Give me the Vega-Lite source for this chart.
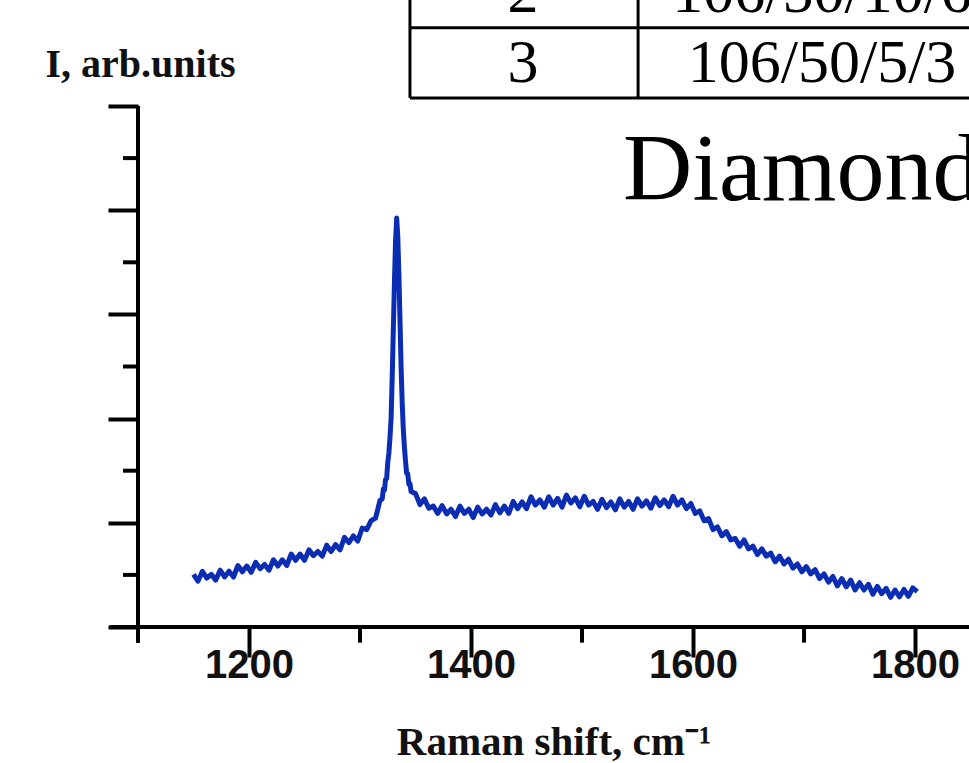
{
  "$schema": "https://vega.github.io/schema/vega-lite/v6.json",
  "width": 831,
  "height": 521,
  "autosize": {"type": "none"},
  "padding": {"left": 138, "top": 106, "right": 0, "bottom": 136},
  "background": "white",
  "config": {"view": {"stroke": null}},
  "datasets": {
    "spectrum": [
      {"x": 1150, "y": 1.01}, {"x": 1154, "y": 0.88}, {"x": 1158, "y": 1.07}, {"x": 1162, "y": 0.94},
      {"x": 1166, "y": 1.01}, {"x": 1170, "y": 0.90}, {"x": 1174, "y": 1.09}, {"x": 1178, "y": 0.96},
      {"x": 1182, "y": 1.07}, {"x": 1186, "y": 0.96}, {"x": 1190, "y": 1.18}, {"x": 1194, "y": 1.06},
      {"x": 1198, "y": 1.17}, {"x": 1202, "y": 1.05}, {"x": 1206, "y": 1.24}, {"x": 1210, "y": 1.12},
      {"x": 1214, "y": 1.20}, {"x": 1218, "y": 1.09}, {"x": 1222, "y": 1.29}, {"x": 1226, "y": 1.17},
      {"x": 1230, "y": 1.29}, {"x": 1234, "y": 1.18}, {"x": 1238, "y": 1.40}, {"x": 1242, "y": 1.28},
      {"x": 1246, "y": 1.40}, {"x": 1250, "y": 1.28}, {"x": 1254, "y": 1.48}, {"x": 1258, "y": 1.37},
      {"x": 1262, "y": 1.45}, {"x": 1266, "y": 1.36}, {"x": 1270, "y": 1.57}, {"x": 1274, "y": 1.45},
      {"x": 1278, "y": 1.58}, {"x": 1282, "y": 1.48}, {"x": 1286, "y": 1.72}, {"x": 1290, "y": 1.62},
      {"x": 1294, "y": 1.75}, {"x": 1298, "y": 1.65}, {"x": 1302, "y": 1.90}, {"x": 1306, "y": 1.87},
      {"x": 1310, "y": 2.04}, {"x": 1314, "y": 2.09}, {"x": 1318, "y": 2.43}, {"x": 1320, "y": 2.46},
      {"x": 1321, "y": 2.65}, {"x": 1322, "y": 2.63}, {"x": 1323, "y": 2.83}, {"x": 1324, "y": 2.85},
      {"x": 1325, "y": 3.16}, {"x": 1326, "y": 3.34}, {"x": 1327, "y": 3.64}, {"x": 1328, "y": 4.0},
      {"x": 1329, "y": 4.8}, {"x": 1330, "y": 5.7}, {"x": 1331, "y": 6.6}, {"x": 1332, "y": 7.4},
      {"x": 1333, "y": 7.85}, {"x": 1334, "y": 7.5}, {"x": 1335, "y": 6.8}, {"x": 1336, "y": 5.9},
      {"x": 1337, "y": 5.0}, {"x": 1338, "y": 4.3}, {"x": 1339, "y": 3.8}, {"x": 1340, "y": 3.45},
      {"x": 1341, "y": 3.18}, {"x": 1342, "y": 2.95}, {"x": 1343, "y": 2.94}, {"x": 1344, "y": 2.74},
      {"x": 1345, "y": 2.75}, {"x": 1346, "y": 2.60},
      {"x": 1350, "y": 2.56}, {"x": 1354, "y": 2.35}, {"x": 1358, "y": 2.46}, {"x": 1362, "y": 2.28},
      {"x": 1366, "y": 2.32}, {"x": 1370, "y": 2.18}, {"x": 1374, "y": 2.33}, {"x": 1378, "y": 2.17},
      {"x": 1382, "y": 2.26}, {"x": 1386, "y": 2.12}, {"x": 1390, "y": 2.32}, {"x": 1394, "y": 2.18},
      {"x": 1398, "y": 2.26}, {"x": 1402, "y": 2.10}, {"x": 1406, "y": 2.30}, {"x": 1410, "y": 2.17},
      {"x": 1414, "y": 2.26}, {"x": 1418, "y": 2.15}, {"x": 1422, "y": 2.35}, {"x": 1426, "y": 2.19},
      {"x": 1430, "y": 2.32}, {"x": 1434, "y": 2.18}, {"x": 1438, "y": 2.41}, {"x": 1442, "y": 2.27},
      {"x": 1446, "y": 2.40}, {"x": 1450, "y": 2.27}, {"x": 1454, "y": 2.50}, {"x": 1458, "y": 2.34},
      {"x": 1462, "y": 2.44}, {"x": 1466, "y": 2.30}, {"x": 1470, "y": 2.50}, {"x": 1474, "y": 2.34},
      {"x": 1478, "y": 2.47}, {"x": 1482, "y": 2.30}, {"x": 1486, "y": 2.53}, {"x": 1490, "y": 2.38},
      {"x": 1494, "y": 2.48}, {"x": 1498, "y": 2.31}, {"x": 1502, "y": 2.51}, {"x": 1506, "y": 2.34},
      {"x": 1510, "y": 2.41}, {"x": 1514, "y": 2.26}, {"x": 1518, "y": 2.45}, {"x": 1522, "y": 2.29},
      {"x": 1526, "y": 2.40}, {"x": 1530, "y": 2.25}, {"x": 1534, "y": 2.46}, {"x": 1538, "y": 2.30},
      {"x": 1542, "y": 2.41}, {"x": 1546, "y": 2.26}, {"x": 1550, "y": 2.46}, {"x": 1554, "y": 2.32},
      {"x": 1558, "y": 2.42}, {"x": 1562, "y": 2.28}, {"x": 1566, "y": 2.48}, {"x": 1570, "y": 2.33},
      {"x": 1574, "y": 2.44}, {"x": 1578, "y": 2.31}, {"x": 1582, "y": 2.51}, {"x": 1586, "y": 2.34},
      {"x": 1590, "y": 2.44}, {"x": 1594, "y": 2.27}, {"x": 1598, "y": 2.37}, {"x": 1602, "y": 2.18},
      {"x": 1606, "y": 2.23}, {"x": 1610, "y": 2.04}, {"x": 1614, "y": 2.08}, {"x": 1618, "y": 1.87},
      {"x": 1622, "y": 1.92}, {"x": 1626, "y": 1.75}, {"x": 1630, "y": 1.83}, {"x": 1634, "y": 1.67},
      {"x": 1638, "y": 1.70}, {"x": 1642, "y": 1.55}, {"x": 1646, "y": 1.67}, {"x": 1650, "y": 1.50},
      {"x": 1654, "y": 1.55}, {"x": 1658, "y": 1.39}, {"x": 1662, "y": 1.50}, {"x": 1666, "y": 1.36},
      {"x": 1670, "y": 1.42}, {"x": 1674, "y": 1.25}, {"x": 1678, "y": 1.36}, {"x": 1682, "y": 1.21},
      {"x": 1686, "y": 1.30}, {"x": 1690, "y": 1.13}, {"x": 1694, "y": 1.21}, {"x": 1698, "y": 1.06},
      {"x": 1702, "y": 1.16}, {"x": 1706, "y": 1.02}, {"x": 1710, "y": 1.10}, {"x": 1714, "y": 0.93},
      {"x": 1718, "y": 1.02}, {"x": 1722, "y": 0.86}, {"x": 1726, "y": 0.97}, {"x": 1730, "y": 0.79},
      {"x": 1734, "y": 0.93}, {"x": 1738, "y": 0.77}, {"x": 1742, "y": 0.90}, {"x": 1746, "y": 0.71},
      {"x": 1750, "y": 0.85}, {"x": 1754, "y": 0.71}, {"x": 1758, "y": 0.82}, {"x": 1762, "y": 0.63},
      {"x": 1766, "y": 0.78}, {"x": 1770, "y": 0.64}, {"x": 1774, "y": 0.74}, {"x": 1778, "y": 0.57},
      {"x": 1782, "y": 0.71}, {"x": 1786, "y": 0.58}, {"x": 1790, "y": 0.72}, {"x": 1794, "y": 0.59},
      {"x": 1798, "y": 0.75}, {"x": 1802, "y": 0.68}
    ],
    "xMinor": [
      {"x": 1100, "y": 0, "y2": -0.3}, {"x": 1300, "y": 0, "y2": -0.3},
      {"x": 1500, "y": 0, "y2": -0.3}, {"x": 1700, "y": 0, "y2": -0.3}
    ],
    "yMinor": [
      {"y": 1, "x": 1086.5, "x2": 1100}, {"y": 3, "x": 1086.5, "x2": 1100}, {"y": 5, "x": 1086.5, "x2": 1100},
      {"y": 7, "x": 1086.5, "x2": 1100}, {"y": 9, "x": 1086.5, "x2": 1100}
    ],
    "hLines": [
      {"y": 0, "x": 1074.8, "x2": 1848.6, "w": 4},
      {"y": 11.5, "x": 1345, "x2": 1848.6, "w": 3},
      {"y": 10.154, "x": 1345, "x2": 1848.6, "w": 3}
    ],
    "vLines": [
      {"x": 1100, "y": -0.3, "y2": 10, "w": 4},
      {"x": 1345, "y": 10.154, "y2": 12.2, "w": 3},
      {"x": 1550.5, "y": 10.154, "y2": 12.2, "w": 3}
    ],
    "tableText": [
      {"label": "2", "x": 1446.8, "y": 11.8},
      {"label": "106/50/10/6", "x": 1716.2, "y": 11.8},
      {"label": "3", "x": 1446.8, "y": 10.46},
      {"label": "106/50/5/3", "x": 1716.2, "y": 10.46}
    ],
    "bigText": [{"label": "Diamond", "x": 1537, "y": 8.2}]
  },
  "encoding": {
    "x": {
      "field": "x", "type": "quantitative",
      "scale": {"domain": [1100, 1848.6], "nice": false, "zero": false},
      "axis": {
        "values": [1200, 1400, 1600, 1800], "format": "d", "domain": false, "grid": false,
        "ticks": true, "tickSize": 30, "tickWidth": 4, "tickColor": "black",
        "labelFont": "Liberation Sans", "labelFontWeight": "bold", "labelFontSize": 40,
        "labelColor": "#111111", "labelBaseline": "alphabetic", "labelPadding": 20, "labelFlush": false,
        "title": "Raman shift, cm⁻¹", "titleFont": "Liberation Serif", "titleFontWeight": "bold",
        "titleFontSize": 41, "titleColor": "#111111", "titleBaseline": "alphabetic", "titleY": 127
      }
    },
    "y": {
      "field": "y", "type": "quantitative",
      "scale": {"domain": [0, 10], "nice": false, "zero": false},
      "axis": {
        "values": [0, 2, 4, 6, 8, 10], "domain": false, "grid": false, "labels": false,
        "ticks": true, "tickSize": 30, "tickWidth": 4, "tickColor": "black",
        "title": "I, arb.units", "titleAngle": 0, "titleFont": "Liberation Serif", "titleFontWeight": "bold",
        "titleFontSize": 40, "titleColor": "#111111", "titleAlign": "center", "titleBaseline": "alphabetic",
        "titleX": 2, "titleY": -30
      }
    }
  },
  "layer": [
    {
      "data": {"name": "spectrum"},
      "mark": {"type": "line", "color": "#0b2db3", "strokeWidth": 5, "strokeJoin": "round"}
    },
    {
      "data": {"name": "hLines"},
      "mark": {"type": "rule", "color": "black", "strokeCap": "butt"},
      "encoding": {
        "x2": {"field": "x2"},
        "strokeWidth": {"field": "w", "type": "quantitative", "scale": null, "legend": null}
      }
    },
    {
      "data": {"name": "vLines"},
      "mark": {"type": "rule", "color": "black", "strokeCap": "butt"},
      "encoding": {
        "y2": {"field": "y2"},
        "strokeWidth": {"field": "w", "type": "quantitative", "scale": null, "legend": null}
      }
    },
    {
      "data": {"name": "xMinor"},
      "mark": {"type": "rule", "color": "black", "strokeWidth": 4, "strokeCap": "butt"},
      "encoding": {"y2": {"field": "y2"}}
    },
    {
      "data": {"name": "yMinor"},
      "mark": {"type": "rule", "color": "black", "strokeWidth": 4, "strokeCap": "butt"},
      "encoding": {"x2": {"field": "x2"}}
    },
    {
      "data": {"name": "tableText"},
      "mark": {"type": "text", "font": "Liberation Serif", "fontSize": 62, "color": "black", "align": "center", "baseline": "alphabetic"},
      "encoding": {"text": {"field": "label"}}
    },
    {
      "data": {"name": "bigText"},
      "mark": {"type": "text", "font": "Liberation Serif", "fontSize": 96, "color": "black", "align": "left", "baseline": "alphabetic"},
      "encoding": {"text": {"field": "label"}}
    }
  ]
}
